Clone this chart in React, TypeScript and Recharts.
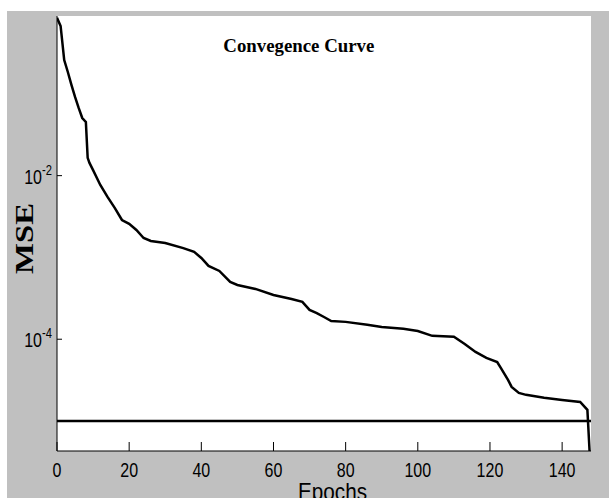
import React from "react";
import { LineChart, Line, XAxis, YAxis, CartesianGrid, ReferenceLine } from "recharts";

const epochs = [0, 1, 2, 3, 4, 5, 6, 7, 8, 8.5, 9, 10, 12, 14, 16, 18, 20, 22, 24, 26, 30, 35, 38, 40, 42, 45, 48, 50, 55, 60, 65, 68, 70, 72, 74, 76, 80, 86, 90, 96, 100, 104, 110, 113, 116, 119, 122, 123, 125, 126, 128, 130, 135, 140, 145, 147, 148];
const mse = [0.85, 0.676, 0.259, 0.185, 0.129, 0.0917, 0.0673, 0.0507, 0.0453, 0.0165, 0.0143, 0.0117, 0.00769, 0.00549, 0.00403, 0.00287, 0.00257, 0.00217, 0.00173, 0.00159, 0.0015, 0.0013, 0.00117, 0.000986, 0.000787, 0.000684, 0.000501, 0.000461, 0.000412, 0.000348, 0.000311, 0.000286, 0.000228, 0.000209, 0.000187, 0.000167, 0.000163, 0.00015, 0.000141, 0.000134, 0.000126, 0.00011, 0.000107, 0.0000875, 0.0000699, 0.0000591, 0.0000527, 0.0000446, 0.0000318, 0.0000261, 0.0000221, 0.0000209, 0.0000192, 0.0000181, 0.0000171, 0.0000137, 0.000002];
const goal = 1e-5;
const xTicks = [0, 20, 40, 60, 80, 100, 120, 140];
const yTicks = [1e-4, 1e-2];
const yTickExponents: Record<string, string> = { "0.0001": "-4", "0.01": "-2" };
const title = "Convegence Curve";
const xLabel = "Epochs";
const yLabel = "MSE";

const data = epochs.map((e, i) => ({ epoch: e, mse: mse[i] }));

const numFont = "'Liberation Sans', Arial, sans-serif";

const XTick = (props: any) => {
  const { x, y, payload } = props;
  return (
    <g>
      <line x1={x} y1={y} x2={x} y2={y - 9} stroke="#000" strokeWidth={1} />
      <text
        transform={`translate(${x},${y + 25.5}) scale(0.8,1)`}
        textAnchor="middle"
        fontFamily={numFont}
        fontSize={20}
        fill="#000"
      >
        {payload.value}
      </text>
    </g>
  );
};

const YTick = (props: any) => {
  const { x, y, payload } = props;
  const exp = yTickExponents[String(payload.value)] ?? "";
  return (
    <g>
      <line x1={x} y1={y} x2={x + 5} y2={y} stroke="#000" strokeWidth={1} />
      <text
        transform={`translate(${x - 15},${y + 8}) scale(0.8,1)`}
        textAnchor="end"
        fontFamily={numFont}
        fontSize={20}
        fill="#000"
      >
        10
      </text>
      <text
        transform={`translate(${x - 15},${y - 1}) scale(0.8,1)`}
        textAnchor="start"
        fontFamily={numFont}
        fontSize={14}
        fill="#000"
      >
        {exp}
      </text>
    </g>
  );
};

export default function App() {
  return (
    <div
      style={{
        position: "absolute",
        left: 7,
        top: 11,
        width: 602,
        height: 487,
        background: "#c0c0c0",
        overflow: "hidden",
      }}
    >
      <LineChart width={602} height={487} data={data} margin={{ top: 5, right: 18, bottom: 0, left: 0 }}>
        <CartesianGrid horizontal={false} vertical={false} fill="#ffffff" stroke="none" />
        <XAxis
          dataKey="epoch"
          type="number"
          domain={[0, 148]}
          ticks={xTicks}
          height={47}
          tickSize={0}
          tickMargin={0}
          tickLine={false}
          axisLine={{ stroke: "#000", strokeWidth: 1 }}
          tick={<XTick />}
          interval={0}
          allowDataOverflow
        />
        <YAxis
          dataKey="mse"
          type="number"
          scale="log"
          domain={[4.3e-6, 0.895]}
          ticks={yTicks}
          width={50}
          tickSize={0}
          tickMargin={0}
          tickLine={false}
          axisLine={{ stroke: "#000", strokeWidth: 1 }}
          tick={<YTick />}
          interval={0}
          allowDataOverflow
        />
        <ReferenceLine y={goal} stroke="#000" strokeWidth={2.5} ifOverflow="hidden" />
        <Line
          type="linear"
          dataKey="mse"
          stroke="#000"
          strokeWidth={2.5}
          dot={false}
          isAnimationActive={false}
        />
        <text
          x={216.3}
          y={41.3}
          fontFamily="'Liberation Serif', 'Times New Roman', serif"
          fontWeight="bold"
          fontSize={19}
          textLength={151}
          lengthAdjust="spacingAndGlyphs"
          fill="#000"
        >
          {title}
        </text>
        <text
          x={325.5}
          y={489}
          textAnchor="middle"
          fontFamily={numFont}
          fontSize={24}
          textLength={69}
          lengthAdjust="spacingAndGlyphs"
          fill="#000"
        >
          {xLabel}
        </text>
        <text
          transform="translate(25.7,227.5) rotate(-90)"
          textAnchor="middle"
          fontFamily="'Liberation Serif', 'Times New Roman', serif"
          fontWeight="bold"
          fontSize={25}
          textLength={71}
          lengthAdjust="spacingAndGlyphs"
          fill="#000"
        >
          {yLabel}
        </text>
      </LineChart>
    </div>
  );
}
